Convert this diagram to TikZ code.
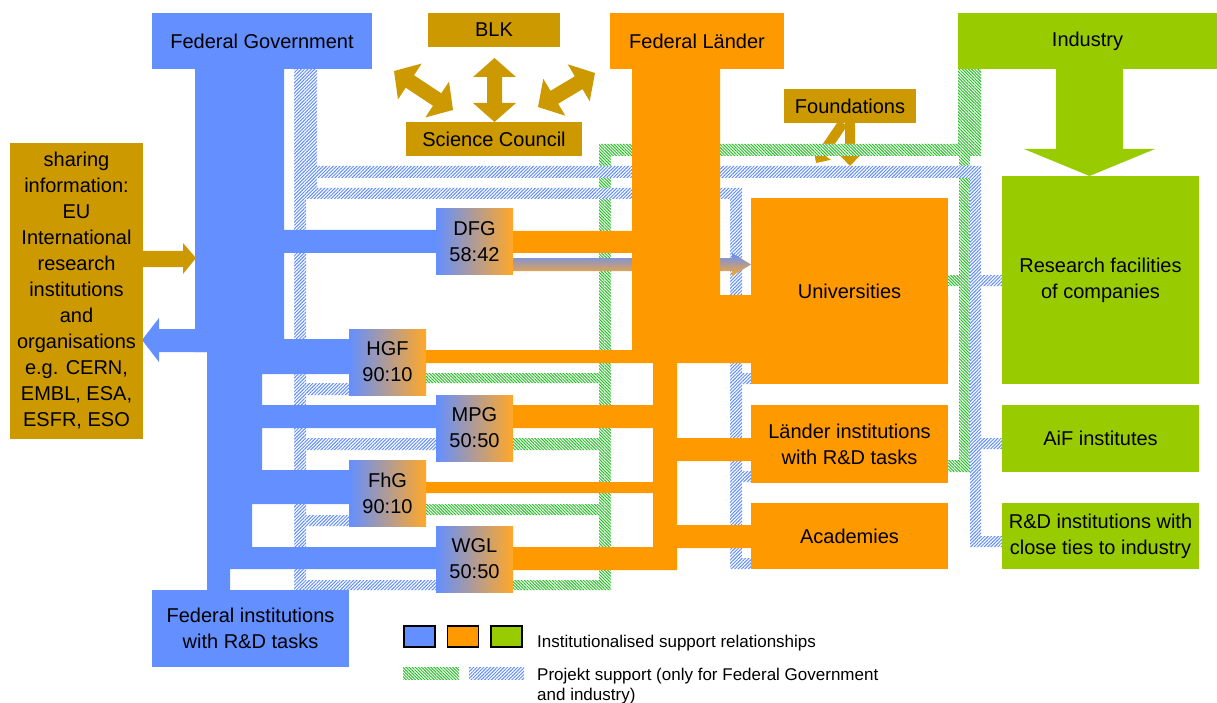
\documentclass[tikz,border=0pt]{standalone}
\usepackage{fontspec}
\setmainfont{Liberation Sans}
\usetikzlibrary{calc,patterns.meta}

\definecolor{fedblue}{RGB}{100,143,255}
\definecolor{laorange}{RGB}{255,153,0}
\definecolor{gradorange}{RGB}{255,168,40}
\definecolor{indgreen}{RGB}{153,204,0}
\definecolor{gold}{RGB}{204,153,0}
\definecolor{hatchblue}{RGB}{95,140,255}
\definecolor{hatchgreen}{RGB}{40,190,40}

\tikzset{
  box/.style={rectangle, inner sep=0pt, align=center, font=\fontsize{20}{26}\selectfont},
  mixbox/.style={box, left color=fedblue, right color=gradorange},
  bluehatch/.style={preaction={fill=white},
    pattern={Lines[angle=45,distance=2.4pt,line width=1pt]}, pattern color=hatchblue},
  greenhatch/.style={preaction={fill=white},
    pattern={Lines[angle=-45,distance=2.2pt,line width=1pt]}, pattern color=hatchgreen},
  legendsq/.style={rectangle, draw=black, line width=1.3pt, inner sep=0pt,
    minimum width=31, minimum height=21},
  legendtext/.style={inner sep=0pt, font=\fontsize{17}{19.5}\selectfont},
}

% box node: name, x1, y1, x2, y2, style, text
\newcommand\boxnode[7]{%
  \node[box,#6,minimum width={#4-#2},minimum height={#5-#3}] (#1)
    at ({(#2+#4)/2},{(#3+#5)/2}) {#7};}

% gold double block arrow between two points
\newcommand\dblarrow[2]{%
  \path (#1) coordinate (da) (#2) coordinate (db);
  \path ($(da)!19pt!(db)$) coordinate (dh1) ($(db)!19pt!(da)$) coordinate (dh2);
  \fill[gold] (da) -- ($(dh1)!21.5pt!90:(db)$) -- ($(dh1)!7.5pt!90:(db)$)
    -- ($(dh2)!7.5pt!-90:(da)$) -- ($(dh2)!21.5pt!-90:(da)$) -- (db)
    -- ($(dh2)!21.5pt!90:(da)$) -- ($(dh2)!7.5pt!90:(da)$)
    -- ($(dh1)!7.5pt!-90:(db)$) -- ($(dh1)!21.5pt!-90:(db)$) -- cycle;}

% gold single block arrow from #1 to #2
\newcommand\sglarrow[2]{%
  \path (#1) coordinate (sa) (#2) coordinate (sb);
  \path ($(sb)!11pt!(sa)$) coordinate (sh);
  \fill[gold] ($(sa)!5pt!90:(sb)$) -- ($(sh)!5pt!90:(sb)$) -- ($(sh)!10.5pt!90:(sb)$)
    -- (sb) -- ($(sh)!10.5pt!-90:(sb)$) -- ($(sh)!5pt!-90:(sb)$)
    -- ($(sa)!5pt!-90:(sb)$) -- cycle;}

\begin{document}
\begin{tikzpicture}[x=1pt,y=-1pt]
\useasboundingbox (0,0) rectangle (1217,703);

% ---- Foundations arrows (under the project support band)
\coordinate (fa1) at (850,123); \coordinate (fb1) at (850,166);
\coordinate (fa2) at (843,123); \coordinate (fb2) at (816,163);
\sglarrow{fa1}{fb1}
\sglarrow{fa2}{fb2}

% ---- project support of industry (green hatching)
\path[greenhatch]
  (958,69) rectangle (981,156)
  (599,144) rectangle (981,156)
  (599,144) rectangle (611,590)
  (959,156) rectangle (970,472)
  (948,275) rectangle (959,286)
  (948,460) rectangle (970,472)
  (426,373) rectangle (599,383)
  (513,438) rectangle (599,450)
  (426,504) rectangle (599,515)
  (513,580) rectangle (611,590);

% ---- project support of the Federal Government (blue hatching)
\path[bluehatch]
  (294,69) rectangle (317,188)
  (317,166) rectangle (981,178)
  (294,188) rectangle (742,199)
  (294,188) rectangle (306,590)
  (730,188) rectangle (742,569)
  (742,373) rectangle (751,384)
  (742,471) rectangle (751,482)
  (742,558) rectangle (751,569)
  (306,383) rectangle (349,395)
  (306,438) rectangle (436,450)
  (306,515) rectangle (349,526)
  (294,580) rectangle (436,590)
  (970,166) rectangle (981,547)
  (981,275) rectangle (1002,286)
  (981,438) rectangle (1002,449)
  (970,536) rectangle (1002,547);

% ---- DFG funding arrow to the universities
\shade[top color=fedblue, bottom color=gradorange]
  (513,258) -- (732,258) -- (732,253) -- (751,264.5) -- (732,276) -- (732,271)
  -- (513,271) -- cycle;

% ---- institutional support of the Federal Government
\fill[fedblue]
  (195,69) rectangle (284,352)
  (207,339) rectangle (349,374)
  (284,230) rectangle (436,253)
  (207,352) rectangle (262,470)
  (207,470) rectangle (252,547)
  (207,547) rectangle (230,590)
  (207,405) rectangle (436,428)
  (207,470) rectangle (349,504)
  (207,547) rectangle (436,569);
\fill[fedblue] (207,329) -- (159,329) -- (159,318) -- (142,340) -- (159,362)
  -- (159,352) -- (207,352) -- cycle;

% ---- institutional support of the Länder
\fill[laorange]
  (632,69) rectangle (720,363)
  (632,295) rectangle (948,363)
  (513,231) rectangle (632,253)
  (426,350) rectangle (632,363)
  (653,350) rectangle (677,570)
  (513,405) rectangle (677,428)
  (426,482) rectangle (677,493)
  (513,547) rectangle (677,570)
  (677,438) rectangle (751,461)
  (677,525) rectangle (751,548);

% ---- industry arrow
\fill[indgreen] (1056,69) -- (1123,69) -- (1123,149) -- (1155,149) -- (1089.5,176)
  -- (1024,149) -- (1056,149) -- cycle;

% ---- information exchange arrow
\fill[gold] (143,251) -- (183,251) -- (183,243) -- (196,258) -- (183,274)
  -- (183,267) -- (143,267) -- cycle;

% ---- boxes
\boxnode{fedgov}{152}{13}{372}{69}{fill=fedblue}{Federal Government}
\boxnode{fedinst}{152}{590}{349}{667}{fill=fedblue}{Federal institutions\\with R\&D tasks}
\boxnode{laender}{610}{13}{784}{69}{fill=laorange}{Federal Länder}
\boxnode{univ}{751}{198}{948}{384}{fill=laorange}{Universities}
\boxnode{linst}{751}{405}{948}{483}{fill=laorange}{Länder institutions\\with R\&D tasks}
\boxnode{acad}{751}{503}{948}{569}{fill=laorange}{Academies}
\boxnode{industry}{958}{13}{1217}{69}{fill=indgreen}{Industry}
\boxnode{resfac}{1002}{176}{1199}{384}{fill=indgreen}{Research facilities\\of companies}
\boxnode{aif}{1002}{405}{1199}{472}{fill=indgreen}{AiF institutes}
\boxnode{rdind}{1002}{503}{1199}{569}{fill=indgreen}{R\&D institutions with\\close ties to industry}
\boxnode{blk}{428}{13}{560}{47}{fill=gold}{BLK}
\boxnode{council}{406}{122}{582}{156}{fill=gold}{Science Council}
\boxnode{found}{784}{89}{916}{123}{fill=gold}{Foundations}
\boxnode{intl}{10}{143}{143}{439}{fill=gold}{sharing\\information:\\EU\\International\\research\\institutions\\and\\organisations\\e.g. CERN,\\EMBL, ESA,\\ESFR, ESO}
\boxnode{dfg}{436}{209}{513}{274}{mixbox}{DFG\\58:42}
\boxnode{hgf}{349}{329}{426}{395}{mixbox}{HGF\\90:10}
\boxnode{mpg}{436}{395}{513}{461}{mixbox}{MPG\\50:50}
\boxnode{fhg}{349}{460}{426}{526}{mixbox}{FhG\\90:10}
\boxnode{wgl}{436}{526}{513}{592}{mixbox}{WGL\\50:50}

% ---- BLK / Science Council coordination
\coordinate (ba1) at (494.5,58);  \coordinate (bb1) at (494.5,122);
\coordinate (ba2) at (394,71);    \coordinate (bb2) at (453,110);
\coordinate (ba3) at (595,73);    \coordinate (bb3) at (538,107);
\dblarrow{ba1}{bb1}
\dblarrow{ba2}{bb2}
\dblarrow{ba3}{bb3}

% ---- legend
\node[legendsq, fill=fedblue] (lgblue) at (419.5,636.5) {};
\node[legendsq, fill=laorange] (lgorange) at (463,636.5) {};
\node[legendsq, fill=indgreen] (lggreen) at (506.5,636.5) {};
\node[greenhatch, minimum width=56, minimum height=12, inner sep=0pt] (lghg) at (431,673) {};
\node[bluehatch, minimum width=55, minimum height=12, inner sep=0pt] (lghb) at (496.5,673) {};
\node[legendtext, anchor=base west] (lgt1) at (537,647) {Institutionalised support relationships};
\node[legendtext, anchor=north west, align=left] (lgt2) at (537,668)
  {Projekt support (only for Federal Government\\and industry)};
\end{tikzpicture}
\end{document}
